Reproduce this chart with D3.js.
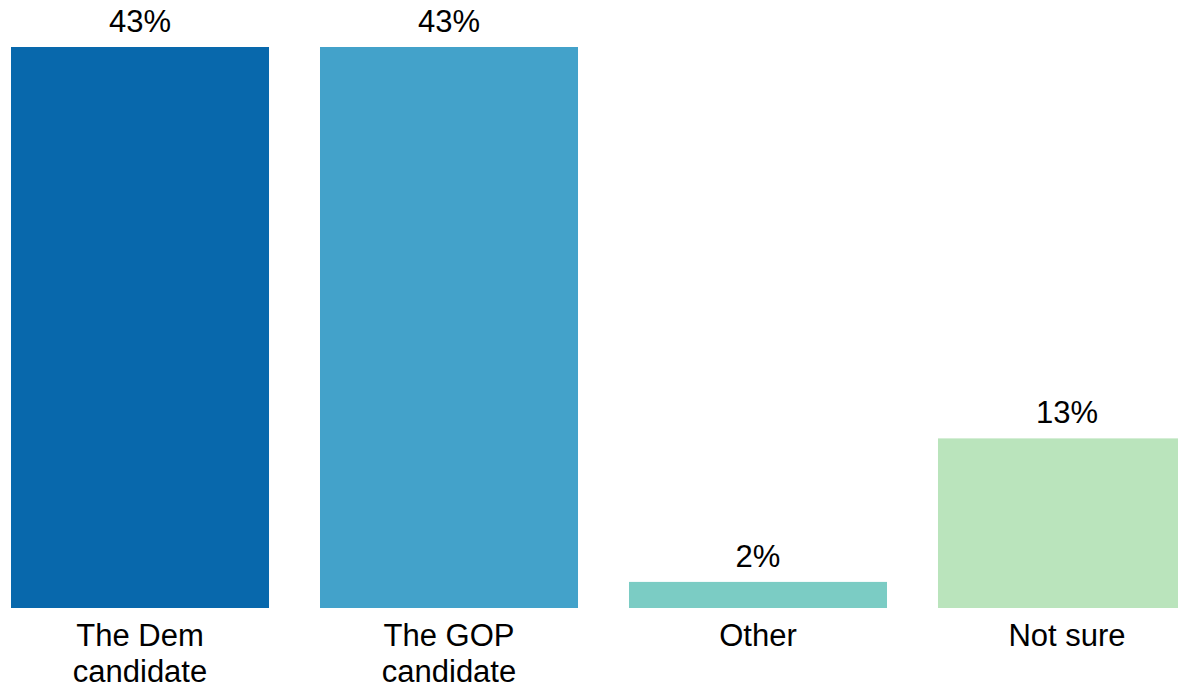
<!DOCTYPE html>
<html>
<head>
<meta charset="utf-8">
<script src="https://cdn.jsdelivr.net/npm/d3@7"></script>
<style>
html,body{margin:0;padding:0;background:#fff;overflow:hidden;}
svg{display:block;}
</style>
</head>
<body>
<svg id="chart" width="1178" height="689"></svg>
<script>
const categories = ["The Dem\ncandidate", "The GOP\ncandidate", "Other", "Not sure"];
const values = [43, 43, 2, 13];
const colors = ["#0868ac", "#43a2ca", "#7bccc4", "#bae4bc"];

const svg = d3.select("#chart");
const font = "'Liberation Sans', Arial, sans-serif";

const x = d3.scaleBand().domain(categories).range([11, 1196]).paddingInner(0.165).paddingOuter(0);
const y = d3.scaleLinear().domain([0, 43]).range([608, 47]);

svg.selectAll("rect.bar").data(categories).join("rect")
  .attr("class", "bar")
  .attr("x", d => x(d))
  .attr("width", x.bandwidth())
  .attr("y", (d, i) => y(values[i]))
  .attr("height", (d, i) => y(0) - y(values[i]))
  .attr("fill", (d, i) => colors[i]);

svg.selectAll("text.val").data(categories).join("text")
  .attr("class", "val")
  .attr("x", d => x(d) + x.bandwidth() / 2)
  .attr("y", (d, i) => y(values[i]) - 15)
  .attr("text-anchor", "middle")
  .attr("font-family", font)
  .attr("font-size", 31)
  .attr("fill", "#000")
  .text((d, i) => values[i] + "%");

const labels = svg.selectAll("text.cat").data(categories).join("text")
  .attr("class", "cat")
  .attr("text-anchor", "middle")
  .attr("font-family", font)
  .attr("font-size", 31)
  .attr("fill", "#000");
labels.each(function(d) {
  const t = d3.select(this);
  d.split("\n").forEach((line, j) => {
    t.append("tspan")
      .attr("x", x(d) + x.bandwidth() / 2)
      .attr("y", 646 + j * 36)
      .text(line);
  });
});
</script>
</body>
</html>
